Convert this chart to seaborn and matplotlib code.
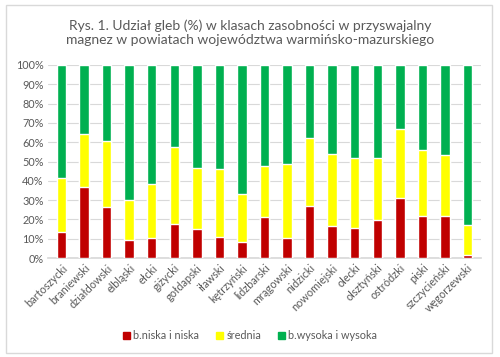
import numpy as np
import pandas as pd
import seaborn as sns
import matplotlib.pyplot as plt
from matplotlib.patches import Rectangle, Patch
from matplotlib.ticker import PercentFormatter

powiaty = ['bartoszycki', 'braniewski', 'działdowski', 'elbląski', 'ełcki', 'giżycki',
           'gołdapski', 'iławski', 'kętrzyński', 'lidzbarski', 'mrągowski', 'nidzicki',
           'nowomiejski', 'olecki', 'olsztyński', 'ostródzki', 'piski', 'szczycieński',
           'węgorzewski']
niska = [13.5, 36.8, 26.6, 9.2, 10.2, 17.8, 14.9, 11.1, 8.1, 21.2, 10.2, 27.1,
         16.4, 15.5, 19.5, 31.1, 21.8, 21.8, 1.4]
srednia = [28.1, 27.6, 33.8, 20.9, 28.3, 39.9, 31.6, 34.8, 25.2, 26.3, 38.3, 34.9,
           37.5, 36.3, 32.3, 35.9, 34.3, 31.6, 16.0]
wysoka = [100 - a - b for a, b in zip(niska, srednia)]

df = pd.DataFrame({'powiat': powiaty, 'niska': niska, 'srednia': srednia, 'wysoka': wysoka})
df['top'] = df['niska'] + df['srednia'] + df['wysoka']
df['mid'] = df['niska'] + df['srednia']

sns.set_theme(style="white")
plt.rcParams['font.family'] = ['Lato', 'DejaVu Sans']

grey = '#595959'
fig = plt.figure(figsize=(5, 3.57), dpi=100)
ax = fig.add_axes([0.096, 0.277, 0.866, 0.541])

# stacked bars: draw cumulative totals from the back
sns.barplot(data=df, x='powiat', y='top', color='#00B050', width=0.42, saturation=1, ax=ax, zorder=3)
sns.barplot(data=df, x='powiat', y='mid', color='#FFFF00', width=0.42, saturation=1, ax=ax, zorder=3)
sns.barplot(data=df, x='powiat', y='niska', color='#C00000', width=0.42, saturation=1, ax=ax, zorder=3)

ax.set_ylim(0, 100)
ax.set_yticks(range(0, 101, 10))
ax.yaxis.set_major_formatter(PercentFormatter(decimals=0))
ax.grid(axis='y', color='#D9D9D9', linewidth=0.8, zorder=0)
ax.set_xlim(-0.6, len(powiaty) - 0.4)
for s in ['top', 'right', 'left']:
    ax.spines[s].set_visible(False)
ax.spines['bottom'].set_color('#D9D9D9')
ax.set_xlabel('')
ax.set_ylabel('')
ax.tick_params(axis='both', length=0, labelsize=7.8, colors=grey, pad=3)
plt.setp(ax.get_xticklabels(), rotation=45, ha='right', rotation_mode='anchor')

fig.text(0.5, 0.909, 'Rys. 1. Udział gleb (%) w klasach zasobności w przyswajalny\nmagnez w powiatach województwa warmińsko-mazurskiego',
         ha='center', va='center', fontsize=10, color=grey, linespacing=1.2)

handles = [Patch(color='#C00000', label='b.niska i niska'),
           Patch(color='#FFFF00', label='średnia'),
           Patch(color='#00B050', label='b.wysoka i wysoka')]
fig.legend(handles=handles, loc='center', bbox_to_anchor=(0.5, 0.059), ncol=3, frameon=False,
           fontsize=7.8, labelcolor=grey, handlelength=0.7, handleheight=0.7, handletextpad=0.3,
           columnspacing=1.5)

fig.patches.append(Rectangle((0.012, 0.012), 0.972, 0.975, transform=fig.transFigure,
                             fill=False, edgecolor='#D9D9D9', linewidth=1))

fig.savefig('out.png', dpi=100)
